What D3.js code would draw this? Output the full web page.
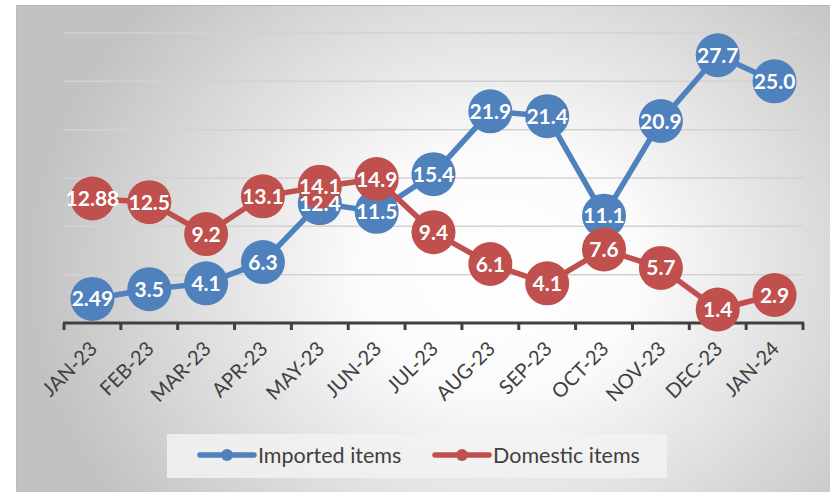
<!DOCTYPE html>
<html><head><meta charset="utf-8">
<script src="https://cdn.jsdelivr.net/npm/d3@7"></script>
<style>html,body{margin:0;padding:0;background:#fff;}svg{display:block;}</style>
</head><body>
<svg id="c" width="830" height="492"></svg>
<script>
const months = ["JAN-23","FEB-23","MAR-23","APR-23","MAY-23","JUN-23","JUL-23","AUG-23","SEP-23","OCT-23","NOV-23","DEC-23","JAN-24"];
const imported = [2.49,3.5,4.1,6.3,12.4,11.5,15.4,21.9,21.4,11.1,20.9,27.7,25.0];
const importedLabels = ["2.49","3.5","4.1","6.3","12.4","11.5","15.4","21.9","21.4","11.1","20.9","27.7","25.0"];
const domestic = [12.88,12.5,9.2,13.1,14.1,14.9,9.4,6.1,4.1,7.6,5.7,1.4,2.9];
const domesticLabels = ["12.88","12.5","9.2","13.1","14.1","14.9","9.4","6.1","4.1","7.6","5.7","1.4","2.9"];
const yTicks = [0,5,10,15,20,25,30];
const seriesNames = ["Imported items","Domestic items"];
const colors = ["#4F81BD","#C0504D"];

const svg = d3.select("#c");
const defs = svg.append("defs");
const g0 = defs.append("radialGradient").attr("id","bg").attr("gradientUnits","userSpaceOnUse")
  .attr("cx",500).attr("cy",270).attr("r",470).attr("fx",500).attr("fy",270)
  .attr("gradientTransform","translate(500,270) scale(1,0.85) translate(-500,-270)");
g0.append("stop").attr("offset","0").attr("stop-color","#ffffff");
g0.append("stop").attr("offset","0.3").attr("stop-color","#fbfbfb");
g0.append("stop").attr("offset","1").attr("stop-color","#c2c2c2");

svg.append("rect").attr("x",16).attr("y",5).attr("width",814).attr("height",487).attr("fill","url(#bg)");
svg.append("line").attr("x1",16).attr("x2",830).attr("y1",5.5).attr("y2",5.5).attr("stroke","#b8b8b8").attr("stroke-width",1);
svg.append("line").attr("x1",16.5).attr("x2",16.5).attr("y1",5).attr("y2",492).attr("stroke","#bcbcbc").attr("stroke-width",1);

const x = d3.scaleBand().domain(months).range([64,803]);
const y = d3.scaleLinear().domain([0,30]).range([323,33]);
const cx = d => x(d) + x.bandwidth()/2;

// gridlines
svg.append("g").selectAll("line").data(yTicks.filter(t=>t>0)).join("line")
  .attr("x1",64).attr("x2",803).attr("y1",d=>y(d)).attr("y2",d=>y(d))
  .attr("stroke","#d2d2d2").attr("stroke-width",1.5);

// x axis
const xa = svg.append("g").attr("transform","translate(0,"+y(0)+")")
  .call(d3.axisBottom(x).tickSize(0).tickFormat(""));
xa.select(".domain").remove();
xa.append("line").attr("x1",63).attr("x2",804).attr("y1",0).attr("y2",0).attr("stroke","#404040").attr("stroke-width",3);
const edges = months.map(m=>x(m)).concat([x.range()[1]]);
xa.selectAll("line.tk").data(edges).join("line").attr("class","tk")
  .attr("x1",d=>d).attr("x2",d=>d).attr("y1",0).attr("y2",7).attr("stroke","#404040").attr("stroke-width",3);
xa.selectAll("text.lbl").data(months).join("text").attr("class","lbl")
  .attr("transform",d=>"translate("+(cx(d)+6)+",27) rotate(-45)")
  .attr("text-anchor","end").attr("font-family","Lato, sans-serif").attr("font-size",20)
  .attr("fill","#404040").text(d=>d);

const line = d3.line().x(d=>cx(d.m)).y(d=>y(d.v));
const series = [
  months.map((m,i)=>({m, v:imported[i], l:importedLabels[i]})),
  months.map((m,i)=>({m, v:domestic[i], l:domesticLabels[i]}))
];
series.forEach((s,k)=>{
  svg.append("path").datum(s).attr("d",line).attr("fill","none")
    .attr("stroke",colors[k]).attr("stroke-width",5.5).attr("stroke-linejoin","round");
  svg.append("g").selectAll("circle").data(s).join("circle")
    .attr("cx",d=>cx(d.m)).attr("cy",d=>y(d.v)).attr("r",22).attr("fill",colors[k]);
});
series.forEach((s,k)=>{
  svg.append("g").selectAll("text").data(s).join("text")
    .attr("x",d=>cx(d.m)).attr("y",d=>y(d.v)).attr("dy","0.36em")
    .attr("text-anchor","middle").attr("font-family","Lato, sans-serif").attr("font-weight","bold")
    .attr("font-size",21).attr("fill","#ffffff").text(d=>d.l);
});

// legend
const lg = svg.append("g");
lg.append("rect").attr("x",167).attr("y",434).attr("width",500).attr("height",44).attr("fill","#f2f2f2").attr("opacity",0.85);
const lx = [200,435];
seriesNames.forEach((n,k)=>{
  lg.append("line").attr("x1",lx[k]).attr("x2",lx[k]+54).attr("y1",455).attr("y2",455)
    .attr("stroke",colors[k]).attr("stroke-width",5.5).attr("stroke-linecap","round");
  lg.append("circle").attr("cx",lx[k]+27).attr("cy",455).attr("r",6).attr("fill",colors[k]);
  lg.append("text").attr("x",lx[k]+58).attr("y",455).attr("dy","0.36em")
    .attr("font-family","Lato, sans-serif").attr("font-size",21.5).attr("fill","#404040").text(n);
});
</script>
</body></html>
